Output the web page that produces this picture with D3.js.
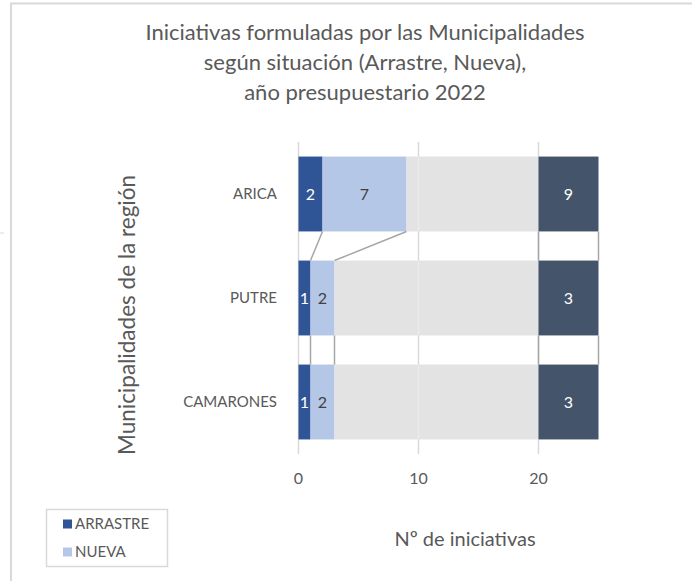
<!DOCTYPE html>
<html>
<head>
<meta charset="utf-8">
<script src="https://cdn.jsdelivr.net/npm/d3@7"></script>
<style>
  body { margin: 0; background: #fff; }
  text { font-family: Lato, "Open Sans", sans-serif; fill: #595959; }
</style>
</head>
<body>
<div id="chart"></div>
<script>
var width = 692,
    height = 581;

// datos
var municipios = ["ARICA", "PUTRE", "CAMARONES"];
var arrastre = [2, 1, 1];
var nueva = [7, 2, 2];
var relleno = [11, 17, 17];     // serie auxiliar gris hasta 20
var bloqueTotal = [5, 5, 5];    // bloque oscuro con el total
var totales = [9, 3, 3];
var xTicks = [0, 10, 20];
var series = ["ARRASTRE", "NUEVA", "RELLENO", "TOTAL"];
var colores = ["#2F5597", "#B4C7E7", "#E3E3E3", "#44546A"];
var leyenda = ["ARRASTRE", "NUEVA"];

var tabla = municipios.map(function(m, i) {
  return { municipio: m, ARRASTRE: arrastre[i], NUEVA: nueva[i],
           RELLENO: relleno[i], TOTAL: bloqueTotal[i], total: totales[i] };
});

var stacked = d3.stack().keys(series)(tabla);

var x = d3.scaleLinear()
    .domain([0, 25])
    .range([298.5, 598.5]);

var y = d3.scaleBand()
    .domain(municipios)
    .range([142, 454])
    .paddingInner(0.28)
    .paddingOuter(0.14);

var color = d3.scaleOrdinal().domain(series).range(colores);

var svg = d3.select("#chart").append("svg")
    .attr("width", width)
    .attr("height", height);

// marco del gráfico
svg.append("line").attr("x1", 10).attr("x2", width).attr("y1", 3.5).attr("y2", 3.5)
    .attr("stroke", "#D9D9D9").attr("stroke-width", 2);
svg.append("line").attr("x1", 11).attr("x2", 11).attr("y1", 3).attr("y2", height)
    .attr("stroke", "#D9D9D9").attr("stroke-width", 2);
svg.append("line").attr("x1", 0).attr("x2", 4).attr("y1", 233).attr("y2", 233)
    .attr("stroke", "#D9D9D9").attr("stroke-width", 1);

// título
var titulo = ["Iniciativas formuladas por las Municipalidades",
              "según situación (Arrastre, Nueva),",
              "año presupuestario 2022"];
svg.append("text")
    .attr("x", 365)
    .attr("y", 40)
    .attr("text-anchor", "middle")
    .style("font-size", "22px")
  .selectAll("tspan")
  .data(titulo)
  .enter().append("tspan")
    .attr("x", 365)
    .attr("dy", function(d, i) { return i ? 30 : 0; })
    .text(function(d) { return d; });

// rejilla
svg.append("g")
  .selectAll("line")
  .data(xTicks)
  .enter().append("line")
    .attr("x1", function(d) { return x(d); })
    .attr("x2", function(d) { return x(d); })
    .attr("y1", y.range()[0])
    .attr("y2", y.range()[1])
    .attr("stroke", "#D9D9D9")
    .attr("stroke-width", 1.5);

// barras
var capas = svg.append("g")
  .selectAll("g")
  .data(stacked)
  .enter().append("g")
    .attr("fill", function(d) { return color(d.key); });

capas.selectAll("rect")
  .data(function(d) { return d; })
  .enter().append("rect")
    .attr("x", function(d) { return x(d[0]); })
    .attr("y", function(d) { return y(d.data.municipio); })
    .attr("width", function(d) { return x(d[1]) - x(d[0]); })
    .attr("height", y.bandwidth());

// línea de la rejilla en 10 se ve clara sobre el gris
svg.append("g")
  .selectAll("line")
  .data(municipios)
  .enter().append("line")
    .attr("x1", x(10)).attr("x2", x(10))
    .attr("y1", function(d) { return y(d); })
    .attr("y2", function(d) { return y(d) + y.bandwidth(); })
    .attr("stroke", "#EBEBEB")
    .attr("stroke-width", 1.5);

// líneas de series
var enlaces = [];
stacked.forEach(function(s) {
  for (var i = 0; i < s.length - 1; i++) {
    enlaces.push({ a: s[i][1], b: s[i + 1][1],
                   ya: y(municipios[i]) + y.bandwidth(), yb: y(municipios[i + 1]) });
  }
});
svg.append("g")
  .selectAll("line")
  .data(enlaces)
  .enter().append("line")
    .attr("x1", function(d) { return x(d.a); })
    .attr("x2", function(d) { return x(d.b); })
    .attr("y1", function(d) { return d.ya; })
    .attr("y2", function(d) { return d.yb; })
    .attr("stroke", "#A6A6A6")
    .attr("stroke-width", 1.5);

// etiquetas de datos
var etiquetas = [];
stacked.forEach(function(s) {
  if (s.key == "RELLENO") return;
  s.forEach(function(d) {
    etiquetas.push({ key: s.key, x0: d[0], x1: d[1], m: d.data.municipio,
                     v: s.key == "TOTAL" ? d.data.total : d.data[s.key] });
  });
});
svg.append("g")
  .selectAll("text")
  .data(etiquetas)
  .enter().append("text")
    .attr("x", function(d) { return (x(d.x0) + x(d.x1)) / 2; })
    .attr("y", function(d) { return y(d.m) + y.bandwidth() / 2; })
    .attr("dy", "0.35em")
    .attr("text-anchor", "middle")
    .style("font-size", "16px")
    .style("fill", function(d) { return d.key == "NUEVA" ? "#404040" : "#fff"; })
    .text(function(d) { return d.v; });

// eje y: categorías
svg.append("g")
  .selectAll("text")
  .data(municipios)
  .enter().append("text")
    .attr("x", 277)
    .attr("y", function(d) { return y(d) + y.bandwidth() / 2; })
    .attr("dy", "0.35em")
    .attr("text-anchor", "end")
    .style("font-size", "15px")
    .text(function(d) { return d; });

// eje x: marcas
svg.append("g")
  .selectAll("text")
  .data(xTicks)
  .enter().append("text")
    .attr("x", function(d) { return x(d); })
    .attr("y", 478)
    .attr("dy", "0.35em")
    .attr("text-anchor", "middle")
    .style("font-size", "16px")
    .text(function(d) { return d; });

// títulos de ejes
svg.append("text")
    .attr("transform", "translate(127,315) rotate(-90)")
    .attr("dy", "0.35em")
    .attr("text-anchor", "middle")
    .style("font-size", "22.5px")
    .text("Municipalidades de la región");

svg.append("text")
    .attr("x", 465)
    .attr("y", 539)
    .attr("dy", "0.35em")
    .attr("text-anchor", "middle")
    .style("font-size", "20px")
    .text("Nº de iniciativas");

// leyenda
var ley = svg.append("g");
ley.append("rect")
    .attr("x", 46.5).attr("y", 509.5)
    .attr("width", 121).attr("height", 57)
    .attr("fill", "#fff")
    .attr("stroke", "#D9D9D9")
    .attr("stroke-width", 1.5);

var item = ley.selectAll("g")
  .data(leyenda)
  .enter().append("g")
    .attr("transform", function(d, i) { return "translate(63," + (524 + i * 28) + ")"; });

item.append("rect")
    .attr("y", -4.5)
    .attr("width", 9).attr("height", 9)
    .attr("fill", function(d) { return color(d); });

item.append("text")
    .attr("x", 12)
    .attr("dy", "0.35em")
    .style("font-size", "15px")
    .text(function(d) { return d; });
</script>
</body>
</html>
